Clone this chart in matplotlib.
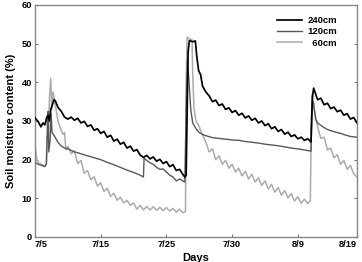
import matplotlib
matplotlib.use("Agg")
import matplotlib.pyplot as plt
import matplotlib.transforms as mtransforms

# ---- data (days since 7/5, soil moisture %) ----
d240 = [0, 0.5, 0.9, 1.2, 1.5, 1.8, 2.0, 2.2, 2.4, 2.6, 2.9, 3.1, 3.5, 4.0, 4.5, 5.0, 5.5, 6.0, 6.5,
        7.0, 7.5, 8.0, 8.5, 9.0, 9.5, 10.0, 10.5, 11.0, 11.5, 12.0, 12.5, 13.0, 13.5, 14.0, 14.5,
        15.0, 15.5, 16.0, 16.5, 17.0, 17.5, 18.0, 18.5, 19.0, 19.5, 20.0, 20.5, 21.0, 21.5, 22.0,
        22.5, 22.8, 23.0, 23.3, 23.5, 24.0, 24.4, 24.6, 24.9, 25.2, 25.5, 26.0, 26.5, 27.0, 27.5,
        28.0, 28.5, 29.0, 29.5, 30.0, 30.5, 31.0, 31.5, 32.0, 32.5, 33.0, 33.5, 34.0, 34.5, 35.0,
        35.5, 36.0, 36.5, 37.0, 37.5, 38.0, 38.5, 39.0, 39.5, 40.0, 40.5, 41.0, 41.5, 42.0, 42.2,
        42.4, 42.7, 43.0, 43.5, 44.0, 44.5, 45.0, 45.5, 46.0, 46.5, 47.0, 47.5, 48.0, 48.5, 49.0]
v240 = [30.8, 29.8, 28.5, 29.5, 29.0, 31.0, 31.5, 30.0, 33.0, 34.0, 35.5, 35.2, 33.5, 32.5, 31.0,
        30.5, 31.0, 30.2, 30.7, 29.5, 29.9, 28.6, 29.0, 27.6, 28.0, 26.8, 27.3, 25.8, 26.3, 24.8,
        25.3, 24.0, 24.5, 23.0, 23.5, 22.2, 22.6, 21.2, 20.6, 21.1, 20.2, 20.7, 19.6, 20.1, 19.0,
        19.5, 18.2, 18.7, 17.2, 17.5, 16.2, 15.5, 16.0, 48.0, 50.8, 50.5, 50.7, 47.0, 43.0, 42.0,
        39.0, 37.5, 36.5, 35.0, 35.4, 34.0, 34.4, 33.0, 33.4, 32.2, 32.7, 31.5, 32.0, 30.8, 31.3,
        30.2, 30.7, 29.5, 30.0, 28.8, 29.3, 28.0, 28.5, 27.3, 27.8, 26.6, 27.1, 26.0, 26.4, 25.4,
        25.8, 25.0, 25.4, 24.6, 36.0, 38.5, 37.0, 35.5, 35.9, 34.2, 34.6, 33.2, 33.6, 32.4, 32.8,
        31.5, 31.9, 30.5, 30.9, 29.5]

d120 = [0, 0.5, 1.0, 1.5, 1.75, 1.9, 2.0, 2.1, 2.3, 2.45, 2.6, 3.0, 3.5, 4.0, 4.5, 5.0, 6.0, 6.5,
        7.0, 8.0, 9.0, 10.0, 11.0, 12.0, 13.0, 14.0, 15.0, 16.0, 16.5, 16.6, 17.0, 17.5, 18.0, 18.5,
        19.0, 19.5, 20.0, 20.5, 21.0, 21.5, 22.0, 22.5, 22.8, 23.0, 23.2, 23.45, 23.7, 24.0, 24.5,
        25.0, 25.5, 26.0, 27.0, 28.0, 29.0, 30.0, 31.0, 32.0, 33.0, 34.0, 35.0, 36.0, 37.0, 38.0,
        39.0, 40.0, 41.0, 42.0, 42.15, 42.35, 42.7, 43.0, 43.8, 44.5, 45.0, 46.0, 46.5, 47.0, 48.0,
        49.0]
v120 = [19.2, 18.8, 18.5, 18.2, 19.0, 30.0, 32.5, 22.0, 25.0, 32.0, 27.0, 26.0, 24.5, 23.5, 23.0,
        22.8, 22.0, 21.8, 21.5, 21.0, 20.5, 20.0, 19.3, 18.7, 18.0, 17.3, 16.7, 16.0, 15.5, 20.4,
        19.8, 19.2, 18.8, 18.0, 17.5, 17.6, 16.8, 16.0, 15.5, 14.5, 15.0, 14.5, 14.2, 33.0, 45.8,
        40.0, 33.0, 29.5, 28.0, 27.0, 26.5, 26.2, 25.7, 25.5, 25.3, 25.1, 25.0, 24.7, 24.5, 24.3,
        24.0, 23.8, 23.6, 23.3, 23.0, 22.8, 22.5, 22.2, 33.0, 35.0, 30.5, 29.5, 28.5, 27.8, 27.5,
        27.0, 26.8, 26.5, 26.0, 25.8]

d60 = [0, 0.3, 0.5, 1.0, 1.5, 1.7, 1.85, 2.0, 2.2, 2.4, 2.55, 2.75, 3.0, 3.5, 4.0, 4.3, 4.5, 4.7,
       5.0, 5.5, 6.0, 6.5, 7.0, 7.5, 8.0, 8.5, 9.0, 9.5, 10.0, 10.5, 11.0, 11.5, 12.0, 12.5, 13.0,
       13.5, 14.0, 14.5, 15.0, 15.5, 16.0, 16.5, 17.0, 17.5, 18.0, 18.5, 19.0, 19.5, 20.0, 20.5,
       21.0, 21.5, 22.0, 22.5, 22.9, 23.0, 23.15, 23.5, 23.9, 24.0, 24.2, 24.5, 25.0, 25.3, 25.5,
       26.0, 26.5, 27.0, 27.5, 28.0, 28.5, 29.0, 29.5, 30.0, 30.5, 31.0, 31.5, 32.0, 32.5, 33.0,
       33.5, 34.0, 34.5, 35.0, 35.5, 36.0, 36.5, 37.0, 37.5, 38.0, 38.5, 39.0, 39.5, 40.0, 40.5,
       41.0, 41.5, 41.9, 42.05, 42.2, 42.5, 43.0, 43.5, 44.0, 44.5, 45.0, 45.5, 46.0, 46.5, 47.0,
       47.5, 48.0, 48.5, 49.0]
v60 = [23.5, 20.0, 19.2, 18.8, 18.3, 19.0, 26.0, 24.0, 36.0, 41.0, 33.0, 37.5, 35.0, 30.0, 27.5,
       26.5, 27.0, 22.5, 23.5, 21.5, 22.3, 19.0, 19.8, 16.5, 17.2, 14.8, 15.6, 13.2, 14.0, 11.8,
       12.6, 10.5, 11.3, 9.5, 10.3, 8.8, 9.5, 8.2, 8.8, 7.2, 8.2, 7.0, 7.9, 7.0, 7.8, 6.9, 7.7, 6.8,
       7.6, 6.7, 7.4, 6.4, 7.2, 6.3, 6.6, 40.0, 51.7, 51.2, 51.0, 42.0, 33.0, 30.0, 28.5, 27.0,
       26.5, 24.5, 22.0, 22.8, 20.0, 21.0, 18.8, 19.8, 17.8, 18.8, 16.8, 17.8, 15.8, 17.0, 15.0,
       16.2, 14.2, 15.3, 13.3, 14.5, 12.4, 13.6, 11.6, 12.8, 10.8, 12.0, 10.1, 11.2, 9.3, 10.4, 8.7,
       9.8, 8.6, 9.4, 30.0, 37.0, 33.0, 28.5, 25.5, 25.8, 22.5, 23.0, 20.5, 21.3, 18.8, 19.8, 17.5,
       18.5, 16.3, 15.5]

tick_pos = [0, 10, 20, 30, 40, 49]
tick_lab = ["7/5", "7/15", "7/25", "7/30", "8/9", "8/19"]
y_ticks = [0, 10, 20, 30, 40, 50, 60]

plt.rcParams['font.family'] = ['Liberation Sans', 'DejaVu Sans']
plt.rcParams['font.weight'] = 'bold'

fig = plt.figure(figsize=(3.62, 2.62), dpi=100)
ax = fig.add_axes([35/362, 1-237/262, (357-35)/362, (237-5)/262])

ax.plot(d60, v60, color='#ababab', lw=1.1, label='\u200760cm', zorder=2)
ax.plot(d120, v120, color='#585858', lw=1.0, label='120cm', zorder=3)
ax.plot(d240, v240, color='#000000', lw=1.25, label='240cm', zorder=4)

ax.set_xlim(0, 49)
ax.set_ylim(0, 60)
ax.set_xticks(tick_pos)
ax.set_xticklabels(tick_lab)
ax.set_yticks(y_ticks)
xlabs = ax.get_xticklabels()
xlabs[0].set_horizontalalignment('left')
xlabs[-1].set_horizontalalignment('right')
xlabs[-1].set_transform(xlabs[-1].get_transform() +
                        mtransforms.ScaledTranslation(4/100, 0, fig.dpi_scale_trans))
ax.tick_params(axis='both', direction='in', length=2.5, width=0.8, color='#777777',
               labelsize=6.7, pad=2)
ax.tick_params(axis='y', right=True)
for lab in ax.get_xticklabels() + ax.get_yticklabels():
    lab.set_fontweight('bold')
for s in ax.spines.values():
    s.set_color('#888888')
    s.set_linewidth(1.0)

ax.set_xlabel('Days', fontsize=8, fontweight='bold', labelpad=3)
ax.set_ylabel('Soil moisture content (%)', fontsize=8, fontweight='bold', labelpad=4)

h, l = ax.get_legend_handles_labels()
order = [2, 1, 0]
leg = ax.legend([h[i] for i in order], [l[i] for i in order], loc='upper right',
                bbox_to_anchor=(0.965, 0.99), frameon=False,
                handlelength=2.6, handletextpad=0.6, labelspacing=0.25,
                prop={'weight': 'bold', 'size': 6.8})

fig.savefig('out.png', dpi=100)
